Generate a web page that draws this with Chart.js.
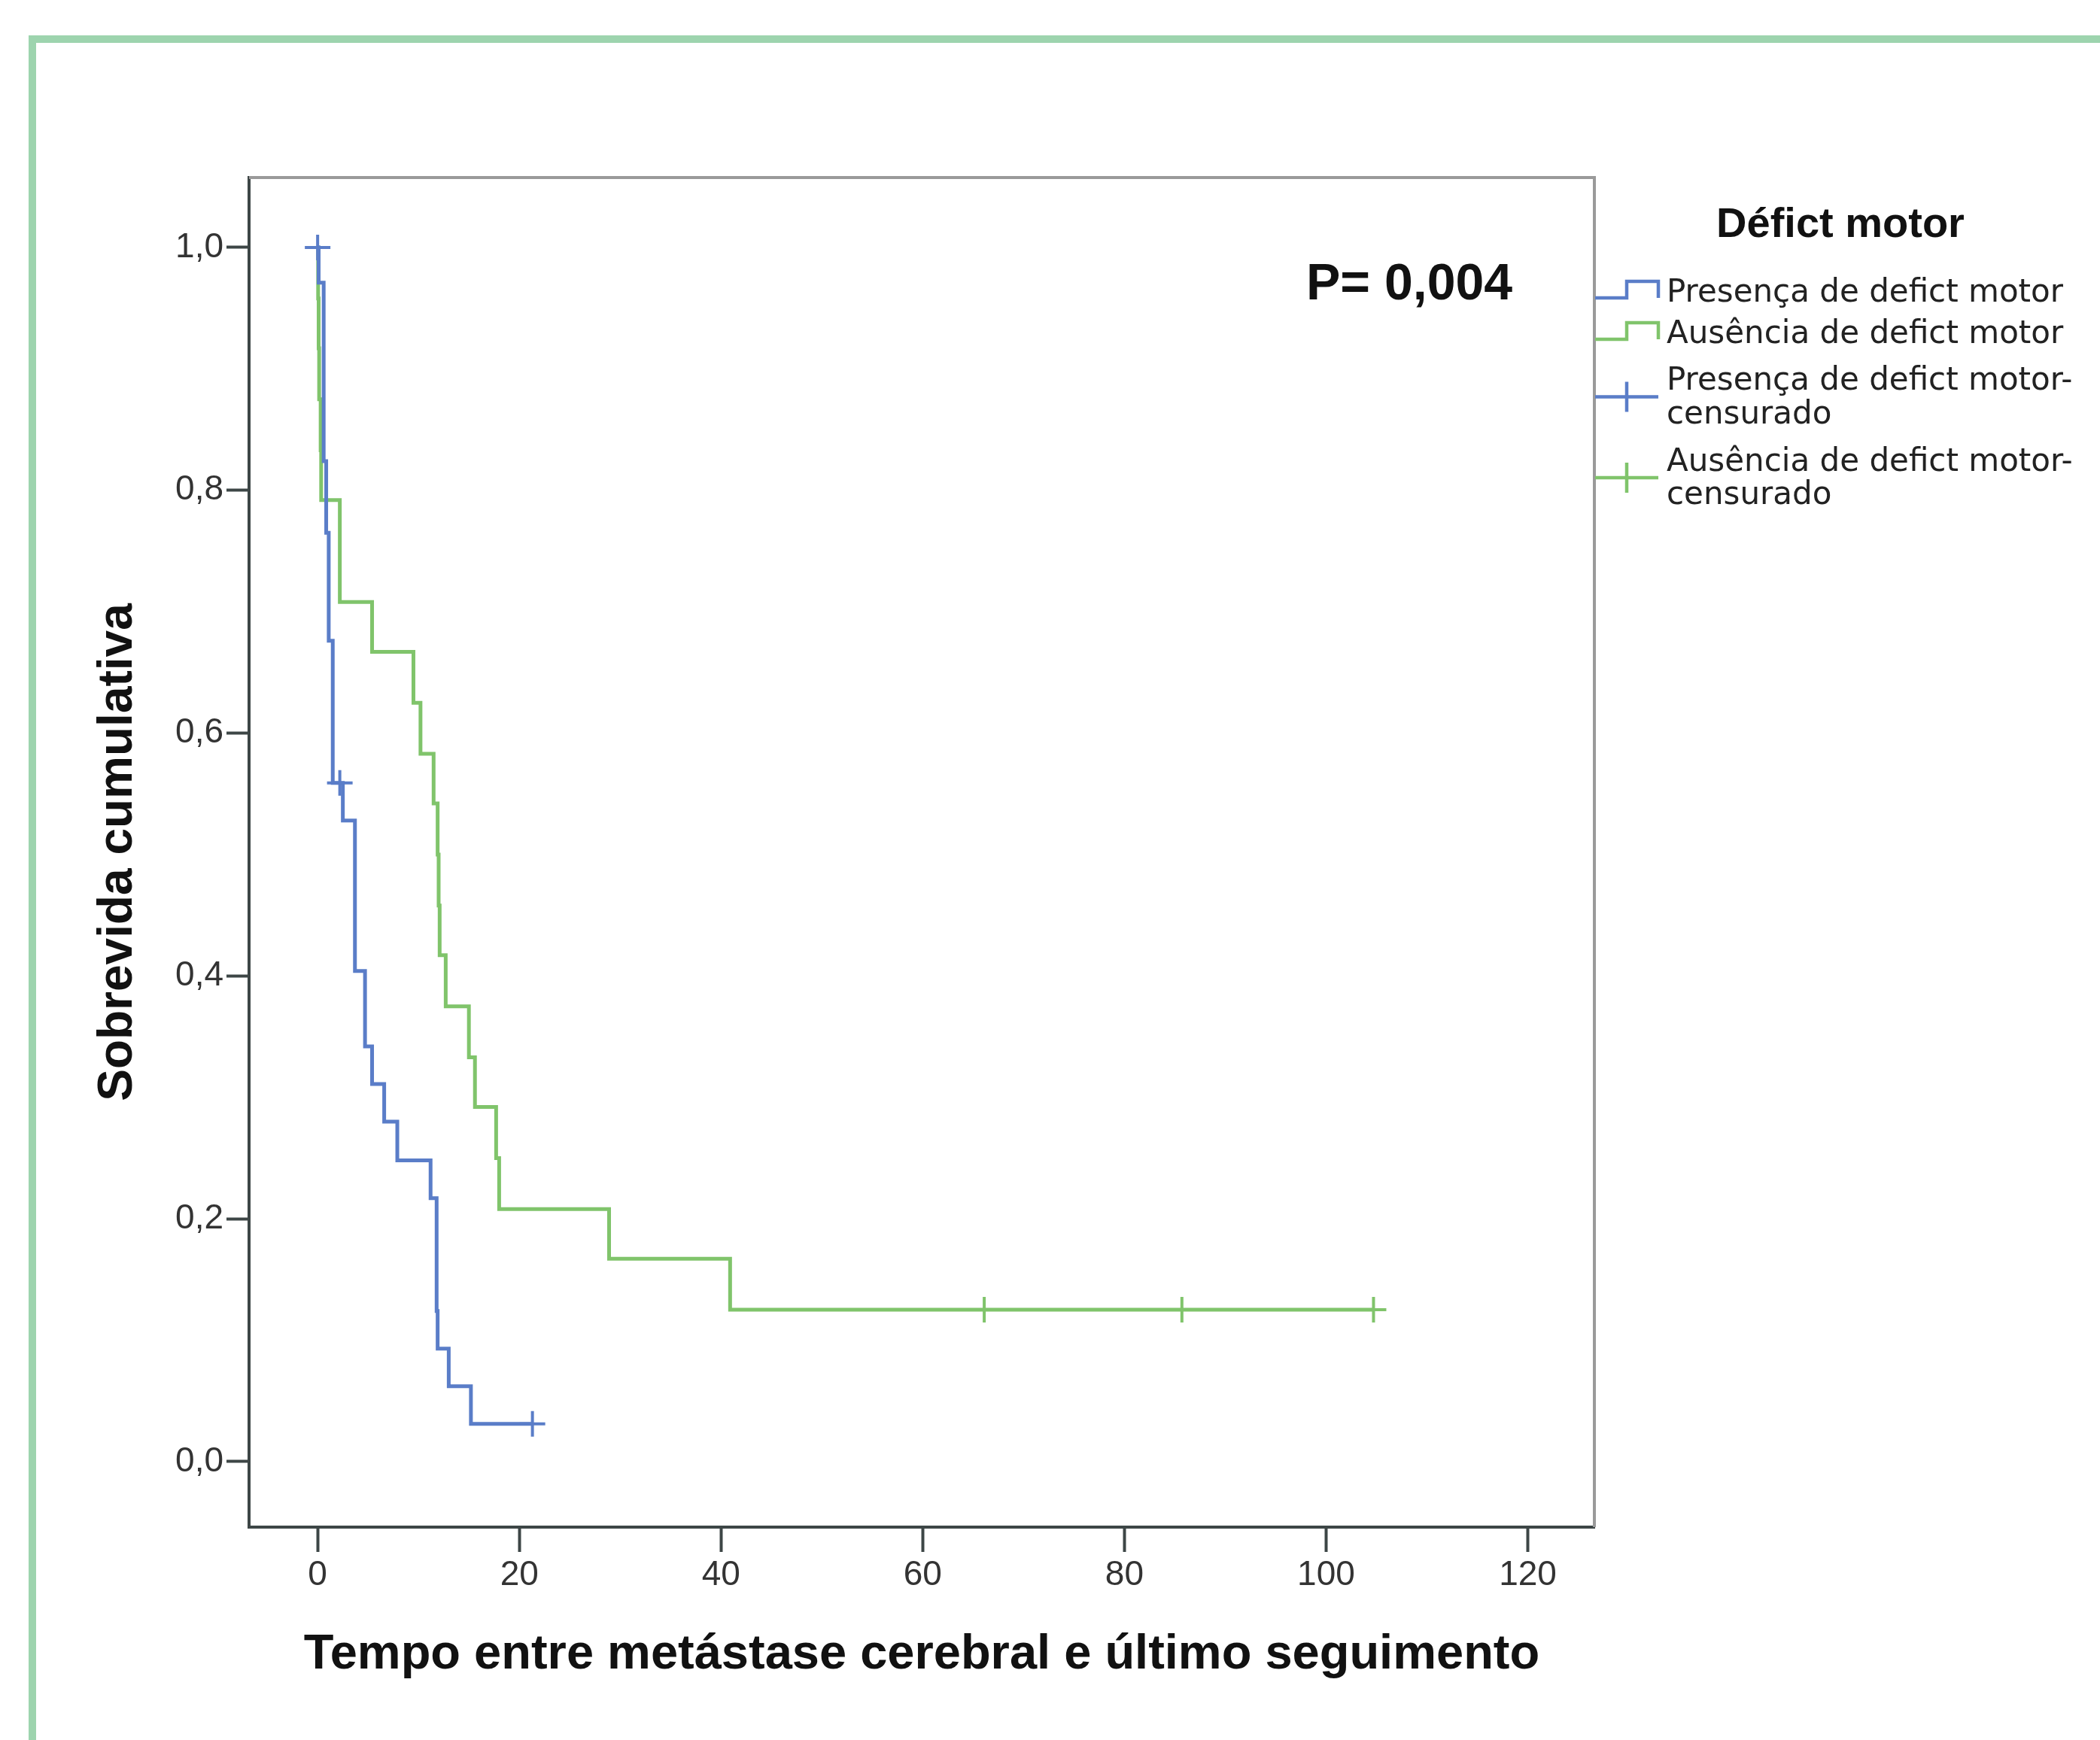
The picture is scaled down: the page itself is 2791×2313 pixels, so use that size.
<!DOCTYPE html>
<html>
<head>
    <title>Sobrevida cumulativa - Défict motor</title>
    <style>
        html, body { margin: 0; padding: 0; background: #ffffff; overflow: hidden; }
        #frame {
            position: absolute;
            left: 38px; top: 47px;
            width: 2900px; height: 2400px;
            border-left: 10px solid #9dd4ae;
            border-top: 10px solid #9dd4ae;
        }
        #wrap { position: absolute; left: 0; top: 0; width: 2791px; height: 2313px; }
    </style>
</head>
<body>
    <div id="frame"></div>
    <div id="wrap"><canvas id="chart"></canvas></div>
    <script src="https://cdn.jsdelivr.net/npm/chart.js"></script>
    <script>
        // Kaplan-Meier, Presença de defict motor (blue)
        const blueTime = [0, 0.1, 0.6, 0.6, 0.6, 0.6, 0.6, 0.85, 0.85, 1.1, 1.1, 1.1, 1.5, 1.5, 1.5, 1.5, 2.5,
                          3.7, 3.7, 3.7, 3.7, 4.7, 4.7, 5.4, 6.6, 7.9, 11.2, 11.8, 11.8, 11.8, 11.9, 13.0, 15.2, 21.3];
        const blueSurv = [1.0, 0.971, 0.941, 0.912, 0.882, 0.853, 0.824, 0.794, 0.765, 0.735, 0.706, 0.676,
                          0.647, 0.618, 0.588, 0.559, 0.528, 0.497, 0.466, 0.435, 0.404, 0.373, 0.342, 0.311,
                          0.280, 0.248, 0.217, 0.186, 0.155, 0.124, 0.093, 0.062, 0.031, 0.031];
        const blueCensorTime = [0, 2.2, 21.3];
        const blueCensorSurv = [1.0, 0.559, 0.031];

        // Ausência de defict motor (green)
        const greenTime = [0, 0.05, 0.1, 0.15, 0.3, 0.35, 2.2, 2.2, 5.4, 9.5, 10.2, 11.5, 11.9, 12.0, 12.1,
                           12.7, 15.0, 15.6, 17.7, 18.0, 28.9, 40.9, 104.7];
        const greenSurv = [1.0, 0.958, 0.917, 0.875, 0.833, 0.792, 0.750, 0.708, 0.667, 0.625, 0.583, 0.542,
                           0.500, 0.458, 0.417, 0.375, 0.333, 0.292, 0.250, 0.208, 0.167, 0.125, 0.125];
        const greenCensorTime = [66.1, 85.7, 104.7];
        const greenCensorSurv = [0.125, 0.125, 0.125];

        const xTicks = [0, 20, 40, 60, 80, 100, 120];
        const yTicks = [0.0, 0.2, 0.4, 0.6, 0.8, 1.0];

        const legendTitle = 'Défict motor';
        const legendLabels = [
            ['Presença de defict motor'],
            ['Ausência de defict motor'],
            ['Presença de defict motor-', 'censurado'],
            ['Ausência de defict motor-', 'censurado']
        ];
        const pText = 'P= 0,004';

        const BLUE = '#5a7dc8';
        const GREEN = '#80c46b';
        const AXIS = '#3d4646';
        const FONT = "'Liberation Sans', Arial, sans-serif";

        function pts(xs, ys) {
            return xs.map((x, i) => ({ x: x, y: ys[i] }));
        }

        // box top/right, legend and p-value
        const decor = {
            id: 'decor',
            afterDraw(chart) {
                const ctx = chart.ctx;
                const a = chart.chartArea;
                ctx.save();
                ctx.strokeStyle = '#9a9a9a';
                ctx.lineWidth = 4;
                ctx.beginPath();
                ctx.moveTo(a.left, a.top);
                ctx.lineTo(a.right, a.top);
                ctx.lineTo(a.right, a.bottom);
                ctx.stroke();

                // p value
                ctx.fillStyle = '#111';
                ctx.font = 'bold 68px ' + FONT;
                ctx.textAlign = 'left';
                ctx.textBaseline = 'alphabetic';
                ctx.fillText(pText, 1736, 398);

                // legend title
                ctx.font = 'bold 56px ' + FONT;
                ctx.textAlign = 'center';
                ctx.textBaseline = 'middle';
                ctx.fillText(legendTitle, 2446, 300);

                const x0 = 2120, x1 = 2162, x2 = 2204, tx = 2215;
                const rows = [[390], [445], [507, 552], [615, 659]];
                const cols = [BLUE, GREEN, BLUE, GREEN];
                ctx.font = "42px 'DejaVu Sans', sans-serif";
                ctx.textAlign = 'left';
                ctx.lineWidth = 4.5;
                legendLabels.forEach((lines, i) => {
                    const ys = rows[i];
                    ctx.strokeStyle = cols[i];
                    ctx.beginPath();
                    if (i < 2) {
                        const lo = ys[0] + 6, hi = ys[0] - 16;
                        ctx.moveTo(x0, lo);
                        ctx.lineTo(x1, lo);
                        ctx.lineTo(x1, hi);
                        ctx.lineTo(x2, hi);
                        ctx.lineTo(x2, lo);
                    } else {
                        const cy = (ys[0] + ys[1]) / 2 - 2;
                        ctx.moveTo(x0, cy);
                        ctx.lineTo(x2, cy);
                        ctx.moveTo(x1, cy - 20);
                        ctx.lineTo(x1, cy + 20);
                    }
                    ctx.stroke();
                    ctx.fillStyle = '#222';
                    lines.forEach((t, j) => ctx.fillText(t, tx, ys[j]));
                });
                ctx.restore();
            }
        };

        Chart.defaults.font.family = FONT;

        new Chart(document.getElementById('chart'), {
            type: 'scatter',
            data: {
                datasets: [
                    {
                        label: 'Presença de defict motor',
                        data: pts(blueTime, blueSurv),
                        showLine: true, stepped: 'before',
                        borderColor: BLUE, borderWidth: 5, pointRadius: 0
                    },
                    {
                        label: 'Presença de defict motor-censurado',
                        data: pts(blueCensorTime, blueCensorSurv),
                        showLine: false, pointStyle: 'cross', pointRadius: 17,
                        borderColor: BLUE, borderWidth: 4
                    },
                    {
                        label: 'Ausência de defict motor',
                        data: pts(greenTime, greenSurv),
                        showLine: true, stepped: 'before',
                        borderColor: GREEN, borderWidth: 5, pointRadius: 0
                    },
                    {
                        label: 'Ausência de defict motor-censurado',
                        data: pts(greenCensorTime, greenCensorSurv),
                        showLine: false, pointStyle: 'cross', pointRadius: 17,
                        borderColor: GREEN, borderWidth: 4
                    }
                ]
            },
            options: {
                responsive: true,
                maintainAspectRatio: false,
                animation: false,
                layout: { padding: { left: 0, top: 236, right: 672, bottom: 0 } },
                plugins: { legend: { display: false }, tooltip: { enabled: false } },
                scales: {
                    x: {
                        type: 'linear', min: -6.8, max: 126.6,
                        afterBuildTicks: s => { s.ticks = xTicks.map(v => ({ value: v })); },
                        afterFit: s => { s.height = 283; },
                        grid: { drawOnChartArea: false, drawTicks: true, tickLength: 33, tickWidth: 4, tickColor: AXIS },
                        border: { display: true, color: AXIS, width: 4 },
                        ticks: { padding: 4, color: '#333', font: { size: 46 }, maxRotation: 0, autoSkip: false,
                                 callback: v => String(v) },
                        title: { display: true, text: 'Tempo entre metástase cerebral e último seguimento',
                                 color: '#111', font: { size: 65, weight: 'bold' }, padding: { top: 0, bottom: 74 } }
                    },
                    y: {
                        type: 'linear', min: -0.054, max: 1.0576,
                        afterBuildTicks: s => { s.ticks = yTicks.map(v => ({ value: v })); },
                        afterFit: s => { s.width = 331; },
                        grid: { drawOnChartArea: false, drawTicks: true, tickLength: 30, tickWidth: 4, tickColor: AXIS },
                        border: { display: true, color: AXIS, width: 4 },
                        ticks: { padding: 4, color: '#333', font: { size: 46 }, autoSkip: false,
                                 callback: v => v.toFixed(1).replace('.', ',') },
                        title: { display: true, text: 'Sobrevida cumulativa',
                                 color: '#111', font: { size: 64, weight: 'bold' }, padding: { top: 119, bottom: 0 } }
                    }
                }
            },
            plugins: [decor]
        });
    </script>
</body>
</html>
